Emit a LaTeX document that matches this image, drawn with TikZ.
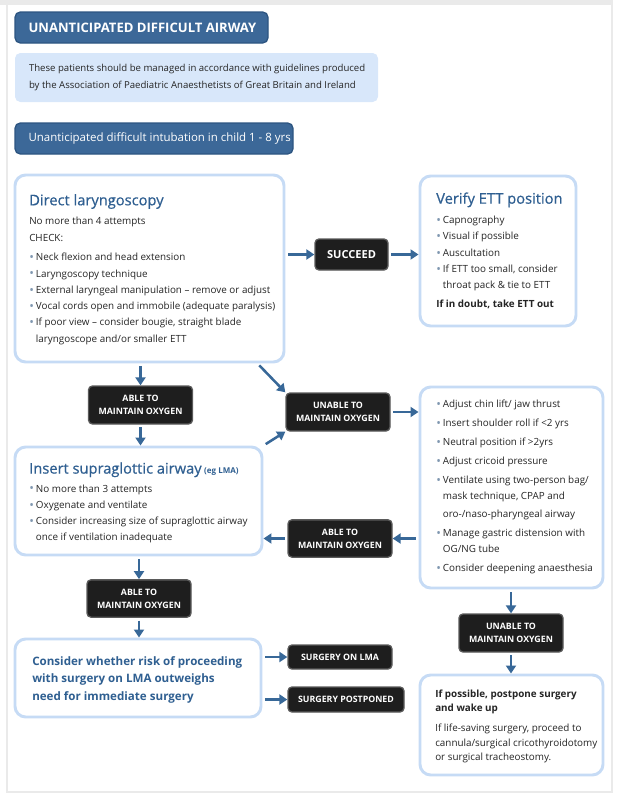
\documentclass[tikz,border=0pt]{standalone}
\usepackage{fontspec}
\setmainfont{Open Sans}
\newfontfamily\headfont{Open Sans}[FakeBold=0.6]
\usetikzlibrary{arrows.meta,positioning}

\definecolor{bannerfill}{HTML}{3C6898}
\definecolor{bannerline}{HTML}{2D5581}
\definecolor{notefill}{HTML}{D8E7FA}
\definecolor{panelline}{HTML}{C6DBF5}
\definecolor{tagfill}{HTML}{1E1E1E}
\definecolor{tagline}{HTML}{5A5A5A}
\definecolor{arrowblue}{HTML}{386898}
\definecolor{headblue}{HTML}{2F5F91}
\definecolor{bodygray}{HTML}{252525}
\definecolor{dotgray}{HTML}{7F97B0}
\definecolor{framegray}{HTML}{EAEAEA}

\newcommand\bodysize{\fontsize{7.4}{12.2}\selectfont}
\newcommand\headsize{\headfont\fontsize{11}{12.2}\selectfont\color{headblue}}
\newcommand\dotitem{\makebox[5pt][l]{\textcolor{dotgray}{\raisebox{-0.15ex}{\scalebox{1.25}{\textbullet}}}}}
\newcommand\dotgap{\hspace*{5pt}}

\begin{document}
\begin{tikzpicture}[x = 0.75pt, y = -0.75pt,
	banner/.style = {draw = bannerline, fill = bannerfill, line width = 1pt, rounded corners = 4pt},
	bannertext/.style = {anchor = west, inner sep = 0pt, text = white},
	notebox/.style = {fill = notefill, rounded corners = 4pt},
	panel/.style = {draw = panelline, line width = 2.2pt, fill = white, rounded corners = 8pt},
	paneltext/.style = {anchor = north west, inner sep = 0pt, align = left, text = bodygray, font = \bodysize},
	tag/.style = {draw = tagline, fill = tagfill, line width = 1pt, rounded corners = 3pt, text = white, align = center, inner sep = 0pt, font = \bfseries\fontsize{6.6}{9.75}\selectfont},
	flow/.style = {draw = arrowblue, line width = 1.9pt, -{Triangle[length = 6pt, width = 7.5pt]}, shorten <= 2pt}]
	\useasboundingbox (0,0) rectangle (620,803);
	% page frame
	\fill[framegray] (0,0) rectangle (613,5);
	\draw[framegray, line width = 1.2pt] (7,5) -- (7,792) -- (612,792) -- (612,0);
	% headings
	\node[banner, minimum width = 189.75pt, minimum height = 23.25pt] (title) at (141.5,27.5) {};
	\node[bannertext, font = \bfseries\fontsize{9.8}{12}\selectfont] (titletext) at ([xshift = 10.5pt]title.west) {UNANTICIPATED DIFFICULT AIRWAY};
	\node[notebox, minimum width = 272.25pt, minimum height = 36.75pt] (note) at (196.5,77.5) {};
	\node[bannertext, align = left, text = bodygray, font = \fontsize{7.2}{12.75}\selectfont] (notetext) at ([xshift = 10.5pt]note.west) {These patients should be managed in accordance with guidelines produced\\by the Association of Paediatric Anaesthetists of Great Britain and Ireland};
	\node[banner, minimum width = 208.5pt, minimum height = 23.25pt] (sub) at (154,138.5) {};
	\node[bannertext, font = \fontsize{8.6}{10}\selectfont] (subtext) at ([xshift = 10.5pt]sub.west) {Unanticipated difficult intubation in child 1 - 8 yrs};
	% panels
	\node[panel, minimum width = 201.75pt, minimum height = 140.25pt] (dl) at (149.5,268.5) {};
	\node[panel, minimum width = 117pt, minimum height = 112.5pt] (verify) at (498,251) {};
	\node[panel, minimum width = 137.25pt, minimum height = 150.75pt] (rescue) at (511.5,487.5) {};
	\node[panel, minimum width = 185.25pt, minimum height = 81pt] (sia) at (138.5,501) {};
	\node[panel, minimum width = 184.5pt, minimum height = 58.5pt] (consider) at (138,678) {};
	\node[panel, minimum width = 137.25pt, minimum height = 75pt] (final) at (511.5,725) {};
	\node[paneltext] (dltext) at (29,193.9) {{\headsize Direct laryngoscopy}\\[2pt]
		No more than 4 attempts\\[1pt]
		CHECK:\\[2pt]
		\dotitem Neck flexion and head extension\\
		\dotitem Laryngoscopy technique\\
		\dotitem External laryngeal manipulation -- remove or adjust\\
		\dotitem Vocal cords open and immobile (adequate paralysis)\\
		\dotitem If poor view -- consider bougie, straight blade\\
		\dotgap laryngoscope and/or smaller ETT};
	\node[paneltext] (verifytext) at (436,192.2) {{\headsize Verify ETT position}\\[2.8pt]
		\dotitem Capnography\\
		\dotitem Visual if possible\\
		\dotitem Auscultation\\
		\dotitem If ETT too small, consider\\
		\dotgap throat pack \& tie to ETT\\[2.2pt]
		\textbf{If in doubt, take ETT out}};
	\node[paneltext] (rescuetext) at (436,400) {\dotitem Adjust chin lift/ jaw thrust\\[2pt]
		\dotitem Insert shoulder roll if <2 yrs\\[2pt]
		\dotitem Neutral position if >2yrs\\[2pt]
		\dotitem Adjust cricoid pressure\\[2pt]
		\dotitem Ventilate using two-person bag/\\
		\dotgap mask technique, CPAP and\\[1pt]
		\dotgap oro-/naso-pharyngeal airway\\[2pt]
		\dotitem Manage gastric distension with\\
		\dotgap OG/NG tube\\[2pt]
		\dotitem Consider deepening anaesthesia};
	\node[paneltext] (siatext) at (29,462.2) {{\headsize Insert supraglottic airway} {\fontsize{6}{7}\selectfont\bfseries\color{headblue}(eg LMA)}\\[1.6pt]
		\dotitem No more than 3 attempts\\
		\dotitem Oxygenate and ventilate\\
		\dotitem Consider increasing size of supraglottic airway\\
		\dotgap once if ventilation inadequate};
	\node[paneltext, text = headblue, font = \bfseries\fontsize{8.7}{13.1}\selectfont] (considertext) at (32,656) {Consider whether risk of proceeding\\with surgery on LMA outweighs\\need for immediate surgery};
	\node[paneltext, font = \fontsize{7.4}{10.9}\selectfont] (finaltext) at (435,689.5) {\textbf{If possible, postpone surgery}\\
		\textbf{and wake up}\\[4pt]
		If life-saving surgery, proceed to\\
		cannula/surgical cricothyroidotomy\\
		or surgical tracheostomy.};
	% decision tags
	\node[tag, font = \bfseries\fontsize{8.3}{10}\selectfont, minimum width = 54.75pt, minimum height = 23.25pt] (succeed) at (351.5,254.5) {SUCCEED};
	\node[tag, minimum width = 78pt, minimum height = 28.5pt] (able1) at (140.5,405) {ABLE TO\\MAINTAIN OXYGEN};
	\node[tag, minimum width = 78pt, minimum height = 28.5pt] (unable1) at (338,412) {UNABLE TO\\MAINTAIN OXYGEN};
	\node[tag, minimum width = 78pt, minimum height = 28pt] (able2) at (340,538.5) {ABLE TO\\MAINTAIN OXYGEN};
	\node[tag, minimum width = 78pt, minimum height = 28pt] (able3) at (139,598.5) {ABLE TO\\MAINTAIN OXYGEN};
	\node[tag, minimum width = 78pt, minimum height = 18pt] (lma) at (340,657) {SURGERY ON LMA};
	\node[tag, minimum width = 87pt, minimum height = 18.75pt] (postponed) at (346,699.5) {SURGERY POSTPONED};
	\node[tag, minimum width = 78pt, minimum height = 28.5pt] (unable2) at (511,633) {UNABLE TO\\MAINTAIN OXYGEN};
	% connectors
	\draw[flow] (succeed.west -| dl.east) -- (succeed.west);
	\draw[flow] (succeed.east) -- (succeed.east -| verify.west);
	\draw[flow] (able1.north |- dl.south) -- (able1.north);
	\draw[flow] (able1.south) -- (able1.south |- sia.north);
	\draw[flow] ([xshift = -21pt]dl.south east) -- (unable1.north west);
	\draw[flow] (sia.north east) -- (unable1.south west);
	\draw[flow] (unable1.east) -- (unable1.east -| rescue.west);
	\draw[flow] (able2.east -| rescue.west) -- (able2.east);
	\draw[flow] (able2.west) -- (able2.west -| sia.east);
	\draw[flow] (able3.north |- sia.south) -- (able3.north);
	\draw[flow] (able3.south) -- (able3.south |- consider.north);
	\draw[flow] (lma.west -| consider.east) -- (lma.west);
	\draw[flow] (postponed.west -| consider.east) -- (postponed.west);
	\draw[flow] (unable2.north |- rescue.south) -- (unable2.north);
	\draw[flow] (unable2.south) -- (unable2.south |- final.north);
\end{tikzpicture}
\end{document}
